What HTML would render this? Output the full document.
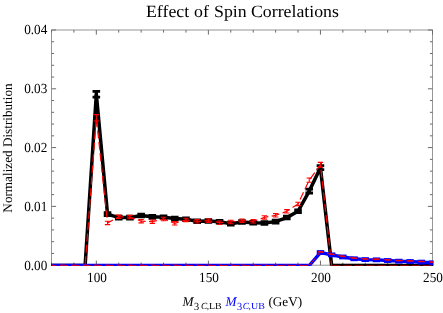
<!DOCTYPE html>
<html><head><meta charset="utf-8"><title>Effect of Spin Correlations</title>
<style>
html,body{margin:0;padding:0;background:#fff;}
body{width:443px;height:313px;position:relative;overflow:hidden;font-family:"Liberation Serif",serif;color:#000;text-rendering:geometricPrecision;}
.t{position:absolute;white-space:nowrap;line-height:1;}
#L{position:absolute;left:0;top:0;width:443px;height:313px;will-change:transform;}
.b{color:#0000ff;}
</style></head><body>
<svg width="443" height="313" viewBox="0 0 443 313" style="position:absolute;left:0;top:0">
<rect x="51.50" y="30.00" width="381.00" height="235.20" fill="none" stroke="#969696" stroke-width="1"/>
<g stroke="#6a6a6a" stroke-width="1" fill="none">
<path d="M51.50 265.20v-2.6M51.50 30.00v2.6"/>
<path d="M73.91 265.20v-2.6M73.91 30.00v2.6"/>
<path d="M96.32 265.20v-4.6M96.32 30.00v4.6"/>
<path d="M118.74 265.20v-2.6M118.74 30.00v2.6"/>
<path d="M141.15 265.20v-2.6M141.15 30.00v2.6"/>
<path d="M163.56 265.20v-2.6M163.56 30.00v2.6"/>
<path d="M185.97 265.20v-2.6M185.97 30.00v2.6"/>
<path d="M208.38 265.20v-4.6M208.38 30.00v4.6"/>
<path d="M230.79 265.20v-2.6M230.79 30.00v2.6"/>
<path d="M253.21 265.20v-2.6M253.21 30.00v2.6"/>
<path d="M275.62 265.20v-2.6M275.62 30.00v2.6"/>
<path d="M298.03 265.20v-2.6M298.03 30.00v2.6"/>
<path d="M320.44 265.20v-4.6M320.44 30.00v4.6"/>
<path d="M342.85 265.20v-2.6M342.85 30.00v2.6"/>
<path d="M365.26 265.20v-2.6M365.26 30.00v2.6"/>
<path d="M387.68 265.20v-2.6M387.68 30.00v2.6"/>
<path d="M410.09 265.20v-2.6M410.09 30.00v2.6"/>
<path d="M432.50 265.20v-4.6M432.50 30.00v4.6"/>
<path d="M51.50 265.20h4.6M432.5 265.20h-4.6"/>
<path d="M51.50 253.44h2.6M432.5 253.44h-2.6"/>
<path d="M51.50 241.68h2.6M432.5 241.68h-2.6"/>
<path d="M51.50 229.92h2.6M432.5 229.92h-2.6"/>
<path d="M51.50 218.16h2.6M432.5 218.16h-2.6"/>
<path d="M51.50 206.40h4.6M432.5 206.40h-4.6"/>
<path d="M51.50 194.64h2.6M432.5 194.64h-2.6"/>
<path d="M51.50 182.88h2.6M432.5 182.88h-2.6"/>
<path d="M51.50 171.12h2.6M432.5 171.12h-2.6"/>
<path d="M51.50 159.36h2.6M432.5 159.36h-2.6"/>
<path d="M51.50 147.60h4.6M432.5 147.60h-4.6"/>
<path d="M51.50 135.84h2.6M432.5 135.84h-2.6"/>
<path d="M51.50 124.08h2.6M432.5 124.08h-2.6"/>
<path d="M51.50 112.32h2.6M432.5 112.32h-2.6"/>
<path d="M51.50 100.56h2.6M432.5 100.56h-2.6"/>
<path d="M51.50 88.80h4.6M432.5 88.80h-4.6"/>
<path d="M51.50 77.04h2.6M432.5 77.04h-2.6"/>
<path d="M51.50 65.28h2.6M432.5 65.28h-2.6"/>
<path d="M51.50 53.52h2.6M432.5 53.52h-2.6"/>
<path d="M51.50 41.76h2.6M432.5 41.76h-2.6"/>
<path d="M51.50 30.00h4.6M432.5 30.00h-4.6"/>
</g>
<clipPath id="c"><rect x="51" y="20" width="382.5" height="246"/></clipPath>
<g clip-path="url(#c)">
<polyline points="85.12,265.50 96.32,94.27 107.53,214.08 118.74,217.59 129.94,217.59 141.15,215.48 152.35,216.83 163.56,217.24 174.76,218.59 185.97,219.29 197.18,221.28 208.38,220.93 219.59,221.69 230.79,223.62 242.00,221.98 253.21,222.68 264.41,222.97 275.62,221.63 286.82,217.53 298.03,211.27 309.24,191.09 320.44,167.69 331.65,265.50" fill="none" stroke="#000" stroke-width="3.5" stroke-linejoin="miter" stroke-miterlimit="10"/>
<rect x="331.15" y="263.7" width="102.35" height="2.3" fill="#000"/>
<rect x="51" y="263.7" width="34.62" height="2.3" fill="#000"/>
<path d="M92.52 91.32h7.6M92.52 97.22h7.6" stroke="#000" stroke-width="2.8"/>
<path d="M96.32 91.32V97.22" stroke="#000" stroke-width="3.4"/>
<path d="M103.73 212.68h7.6M103.73 215.48h7.6" stroke="#000" stroke-width="2.8"/>
<path d="M107.53 212.68V215.48" stroke="#000" stroke-width="3.4"/>
<path d="M114.94 216.19h7.6M114.94 218.99h7.6" stroke="#000" stroke-width="2.8"/>
<path d="M118.74 216.19V218.99" stroke="#000" stroke-width="3.4"/>
<path d="M126.14 216.19h7.6M126.14 218.99h7.6" stroke="#000" stroke-width="2.8"/>
<path d="M129.94 216.19V218.99" stroke="#000" stroke-width="3.4"/>
<path d="M137.35 214.08h7.6M137.35 216.88h7.6" stroke="#000" stroke-width="2.8"/>
<path d="M141.15 214.08V216.88" stroke="#000" stroke-width="3.4"/>
<path d="M148.55 215.43h7.6M148.55 218.23h7.6" stroke="#000" stroke-width="2.8"/>
<path d="M152.35 215.43V218.23" stroke="#000" stroke-width="3.4"/>
<path d="M159.76 215.84h7.6M159.76 218.64h7.6" stroke="#000" stroke-width="2.8"/>
<path d="M163.56 215.84V218.64" stroke="#000" stroke-width="3.4"/>
<path d="M170.96 217.19h7.6M170.96 219.99h7.6" stroke="#000" stroke-width="2.8"/>
<path d="M174.76 217.19V219.99" stroke="#000" stroke-width="3.4"/>
<path d="M182.17 217.89h7.6M182.17 220.69h7.6" stroke="#000" stroke-width="2.8"/>
<path d="M185.97 217.89V220.69" stroke="#000" stroke-width="3.4"/>
<path d="M193.38 219.88h7.6M193.38 222.68h7.6" stroke="#000" stroke-width="2.8"/>
<path d="M197.18 219.88V222.68" stroke="#000" stroke-width="3.4"/>
<path d="M204.58 219.53h7.6M204.58 222.33h7.6" stroke="#000" stroke-width="2.8"/>
<path d="M208.38 219.53V222.33" stroke="#000" stroke-width="3.4"/>
<path d="M215.79 220.29h7.6M215.79 223.09h7.6" stroke="#000" stroke-width="2.8"/>
<path d="M219.59 220.29V223.09" stroke="#000" stroke-width="3.4"/>
<path d="M226.99 222.22h7.6M226.99 225.02h7.6" stroke="#000" stroke-width="2.8"/>
<path d="M230.79 222.22V225.02" stroke="#000" stroke-width="3.4"/>
<path d="M238.20 220.58h7.6M238.20 223.38h7.6" stroke="#000" stroke-width="2.8"/>
<path d="M242.00 220.58V223.38" stroke="#000" stroke-width="3.4"/>
<path d="M249.41 221.28h7.6M249.41 224.08h7.6" stroke="#000" stroke-width="2.8"/>
<path d="M253.21 221.28V224.08" stroke="#000" stroke-width="3.4"/>
<path d="M260.61 221.57h7.6M260.61 224.37h7.6" stroke="#000" stroke-width="2.8"/>
<path d="M264.41 221.57V224.37" stroke="#000" stroke-width="3.4"/>
<path d="M271.82 220.23h7.6M271.82 223.03h7.6" stroke="#000" stroke-width="2.8"/>
<path d="M275.62 220.23V223.03" stroke="#000" stroke-width="3.4"/>
<path d="M283.02 216.13h7.6M283.02 218.93h7.6" stroke="#000" stroke-width="2.8"/>
<path d="M286.82 216.13V218.93" stroke="#000" stroke-width="3.4"/>
<path d="M294.23 209.87h7.6M294.23 212.67h7.6" stroke="#000" stroke-width="2.8"/>
<path d="M298.03 209.87V212.67" stroke="#000" stroke-width="3.4"/>
<path d="M305.44 189.19h7.6M305.44 192.99h7.6" stroke="#000" stroke-width="2.8"/>
<path d="M309.24 189.19V192.99" stroke="#000" stroke-width="3.4"/>
<path d="M316.64 165.69h7.6M316.64 169.69h7.6" stroke="#000" stroke-width="2.8"/>
<path d="M320.44 165.69V169.69" stroke="#000" stroke-width="3.4"/>
<polyline points="85.12,265.50 96.32,117.79 107.53,222.97 118.74,216.83 129.94,217.12 141.15,221.22 152.35,221.63 163.56,218.99 174.76,223.27 185.97,219.93 197.18,221.28 208.38,220.63 219.59,222.68 230.79,221.98 242.00,220.63 253.21,221.28 264.41,217.42 275.62,215.37 286.82,211.33 298.03,203.96 309.24,180.09 320.44,164.77 331.65,265.50" fill="none" stroke="#ff0000" stroke-width="1.2" stroke-dasharray="8 3.4" stroke-dashoffset="10.08"/>
<path d="M331.65 265.45H433" fill="none" stroke="#ff0000" stroke-width="0.6" stroke-dasharray="9 2.4"/>
<path d="M96.32 114.59V120.99M93.62 114.59h5.4M93.62 120.99h5.4" stroke="#ff0000" stroke-width="1.1" fill="none"/>
<path d="M107.53 221.27V224.67M104.83 221.27h5.4M104.83 224.67h5.4" stroke="#ff0000" stroke-width="1.1" fill="none"/>
<path d="M118.74 215.13V218.53M116.04 215.13h5.4M116.04 218.53h5.4" stroke="#ff0000" stroke-width="1.1" fill="none"/>
<path d="M129.94 215.42V218.82M127.24 215.42h5.4M127.24 218.82h5.4" stroke="#ff0000" stroke-width="1.1" fill="none"/>
<path d="M141.15 219.52V222.92M138.45 219.52h5.4M138.45 222.92h5.4" stroke="#ff0000" stroke-width="1.1" fill="none"/>
<path d="M152.35 219.93V223.33M149.65 219.93h5.4M149.65 223.33h5.4" stroke="#ff0000" stroke-width="1.1" fill="none"/>
<path d="M163.56 217.29V220.69M160.86 217.29h5.4M160.86 220.69h5.4" stroke="#ff0000" stroke-width="1.1" fill="none"/>
<path d="M174.76 221.57V224.97M172.06 221.57h5.4M172.06 224.97h5.4" stroke="#ff0000" stroke-width="1.1" fill="none"/>
<path d="M185.97 218.23V221.63M183.27 218.23h5.4M183.27 221.63h5.4" stroke="#ff0000" stroke-width="1.1" fill="none"/>
<path d="M197.18 219.58V222.98M194.48 219.58h5.4M194.48 222.98h5.4" stroke="#ff0000" stroke-width="1.1" fill="none"/>
<path d="M208.38 218.93V222.33M205.68 218.93h5.4M205.68 222.33h5.4" stroke="#ff0000" stroke-width="1.1" fill="none"/>
<path d="M219.59 220.98V224.38M216.89 220.98h5.4M216.89 224.38h5.4" stroke="#ff0000" stroke-width="1.1" fill="none"/>
<path d="M230.79 220.28V223.68M228.09 220.28h5.4M228.09 223.68h5.4" stroke="#ff0000" stroke-width="1.1" fill="none"/>
<path d="M242.00 218.93V222.33M239.30 218.93h5.4M239.30 222.33h5.4" stroke="#ff0000" stroke-width="1.1" fill="none"/>
<path d="M253.21 219.58V222.98M250.51 219.58h5.4M250.51 222.98h5.4" stroke="#ff0000" stroke-width="1.1" fill="none"/>
<path d="M264.41 215.72V219.12M261.71 215.72h5.4M261.71 219.12h5.4" stroke="#ff0000" stroke-width="1.1" fill="none"/>
<path d="M275.62 213.67V217.07M272.92 213.67h5.4M272.92 217.07h5.4" stroke="#ff0000" stroke-width="1.1" fill="none"/>
<path d="M286.82 209.63V213.03M284.12 209.63h5.4M284.12 213.03h5.4" stroke="#ff0000" stroke-width="1.1" fill="none"/>
<path d="M298.03 202.26V205.66M295.33 202.26h5.4M295.33 205.66h5.4" stroke="#ff0000" stroke-width="1.1" fill="none"/>
<path d="M309.24 177.99V182.19M306.54 177.99h5.4M306.54 182.19h5.4" stroke="#ff0000" stroke-width="1.1" fill="none"/>
<path d="M320.44 162.37V167.17M317.74 162.37h5.4M317.74 167.17h5.4" stroke="#ff0000" stroke-width="1.1" fill="none"/>
<polyline points="51.50,265.50 62.71,265.50 73.91,265.50 85.12,265.50 96.32,265.50 107.53,265.50 118.74,265.50 129.94,265.50 141.15,265.50 152.35,265.50 163.56,265.50 174.76,265.50 185.97,265.50 197.18,265.50 208.38,265.50 219.59,265.50 230.79,265.50 242.00,265.50 253.21,265.50 264.41,265.50 275.62,265.50 286.82,265.50 298.03,265.50 309.24,265.50 320.44,252.52 331.65,254.86 342.85,256.96 354.06,258.77 365.26,259.59 376.47,259.83 387.68,260.53 398.88,261.17 410.09,261.52 421.29,262.11 432.50,262.81" fill="none" stroke="#0000ff" stroke-width="3.4" stroke-linejoin="round"/>
<rect x="316.74" y="250.12" width="7.4" height="4.8" fill="#0000ff"/>
<rect x="327.95" y="252.46" width="7.4" height="4.8" fill="#0000ff"/>
<rect x="339.15" y="254.56" width="7.4" height="4.8" fill="#0000ff"/>
<rect x="350.36" y="256.37" width="7.4" height="4.8" fill="#0000ff"/>
<rect x="361.56" y="257.19" width="7.4" height="4.8" fill="#0000ff"/>
<rect x="372.77" y="257.43" width="7.4" height="4.8" fill="#0000ff"/>
<rect x="383.98" y="258.13" width="7.4" height="4.8" fill="#0000ff"/>
<rect x="395.18" y="258.77" width="7.4" height="4.8" fill="#0000ff"/>
<rect x="406.39" y="259.12" width="7.4" height="4.8" fill="#0000ff"/>
<rect x="417.59" y="259.71" width="7.4" height="4.8" fill="#0000ff"/>
<rect x="428.80" y="260.41" width="7.4" height="4.8" fill="#0000ff"/>
<polyline points="51.50,265.50 62.71,265.50 73.91,265.50 85.12,265.50 96.32,265.50 107.53,265.50 118.74,265.50 129.94,265.50 141.15,265.50 152.35,265.50 163.56,265.50 174.76,265.50 185.97,265.50 197.18,265.50 208.38,265.50 219.59,265.50 230.79,265.50 242.00,265.50 253.21,265.50 264.41,265.50 275.62,265.50 286.82,265.50 298.03,265.50 309.24,265.50 320.44,251.87 331.65,254.21 342.85,256.31 354.06,258.13 365.26,258.95 376.47,259.18 387.68,259.88 398.88,260.53 410.09,260.88 421.29,261.46 432.50,262.16" fill="none" stroke="#ff0000" stroke-width="1.0" stroke-dasharray="8 3.4" stroke-dashoffset="2.92" opacity="0.8"/>
<path d="M49.00 264.5h5" stroke="#ff0000" stroke-width="1" opacity="0.35"/>
<path d="M60.21 264.5h5" stroke="#ff0000" stroke-width="1" opacity="0.35"/>
<path d="M71.41 264.5h5" stroke="#ff0000" stroke-width="1" opacity="0.35"/>
<path d="M82.62 264.5h5" stroke="#ff0000" stroke-width="1" opacity="0.35"/>
<path d="M93.82 264.5h5" stroke="#ff0000" stroke-width="1" opacity="0.35"/>
<path d="M105.03 264.5h5" stroke="#ff0000" stroke-width="1" opacity="0.35"/>
<path d="M116.24 264.5h5" stroke="#ff0000" stroke-width="1" opacity="0.35"/>
<path d="M127.44 264.5h5" stroke="#ff0000" stroke-width="1" opacity="0.35"/>
<path d="M138.65 264.5h5" stroke="#ff0000" stroke-width="1" opacity="0.35"/>
<path d="M149.85 264.5h5" stroke="#ff0000" stroke-width="1" opacity="0.35"/>
<path d="M161.06 264.5h5" stroke="#ff0000" stroke-width="1" opacity="0.35"/>
<path d="M172.26 264.5h5" stroke="#ff0000" stroke-width="1" opacity="0.35"/>
<path d="M183.47 264.5h5" stroke="#ff0000" stroke-width="1" opacity="0.35"/>
<path d="M194.68 264.5h5" stroke="#ff0000" stroke-width="1" opacity="0.35"/>
<path d="M205.88 264.5h5" stroke="#ff0000" stroke-width="1" opacity="0.35"/>
<path d="M217.09 264.5h5" stroke="#ff0000" stroke-width="1" opacity="0.35"/>
<path d="M228.29 264.5h5" stroke="#ff0000" stroke-width="1" opacity="0.35"/>
<path d="M239.50 264.5h5" stroke="#ff0000" stroke-width="1" opacity="0.35"/>
<path d="M250.71 264.5h5" stroke="#ff0000" stroke-width="1" opacity="0.35"/>
<path d="M261.91 264.5h5" stroke="#ff0000" stroke-width="1" opacity="0.35"/>
<path d="M273.12 264.5h5" stroke="#ff0000" stroke-width="1" opacity="0.35"/>
<path d="M284.32 264.5h5" stroke="#ff0000" stroke-width="1" opacity="0.35"/>
<path d="M295.53 264.5h5" stroke="#ff0000" stroke-width="1" opacity="0.35"/>
<path d="M306.74 264.5h5" stroke="#ff0000" stroke-width="1" opacity="0.35"/>
<path d="M317.84 251.87h5.2" stroke="#ff0000" stroke-width="1.6" opacity="0.9"/>
<path d="M329.05 254.21h5.2" stroke="#ff0000" stroke-width="1.6" opacity="0.9"/>
<path d="M340.25 256.31h5.2" stroke="#ff0000" stroke-width="1.6" opacity="0.9"/>
<path d="M351.46 258.13h5.2" stroke="#ff0000" stroke-width="1.6" opacity="0.9"/>
<path d="M362.66 258.95h5.2" stroke="#ff0000" stroke-width="1.6" opacity="0.9"/>
<path d="M373.87 259.18h5.2" stroke="#ff0000" stroke-width="1.6" opacity="0.9"/>
<path d="M385.08 259.88h5.2" stroke="#ff0000" stroke-width="1.6" opacity="0.9"/>
<path d="M396.28 260.53h5.2" stroke="#ff0000" stroke-width="1.6" opacity="0.9"/>
<path d="M407.49 260.88h5.2" stroke="#ff0000" stroke-width="1.6" opacity="0.9"/>
<path d="M418.69 261.46h5.2" stroke="#ff0000" stroke-width="1.6" opacity="0.9"/>
<path d="M429.90 262.16h5.2" stroke="#ff0000" stroke-width="1.6" opacity="0.9"/>
</g>
</svg>
<div id="L">
<div class="t " style="left:146.10px;top:2.60px;font-size:17.20px;transform:scale(1.0350,1.0000);transform-origin:0 0;">Effect</div>
<div class="t " style="left:194.30px;top:2.60px;font-size:17.20px;transform:scale(1.0350,1.0000);transform-origin:0 0;">of</div>
<div class="t " style="left:214.10px;top:2.60px;font-size:17.20px;transform:scale(1.0350,1.0000);transform-origin:0 0;">Spin</div>
<div class="t " style="left:251.40px;top:2.60px;font-size:17.20px;transform:scale(1.0350,1.0000);transform-origin:0 0;">Correlations</div>
<div class="t" style="right:396.00px;top:260.00px;font-size:13.90px;transform:scale(0.9500,1.0000);transform-origin:100% 50%">0.00</div>
<div class="t" style="right:396.00px;top:201.00px;font-size:13.90px;transform:scale(0.9500,1.0000);transform-origin:100% 50%">0.01</div>
<div class="t" style="right:396.00px;top:142.00px;font-size:13.90px;transform:scale(0.9500,1.0000);transform-origin:100% 50%">0.02</div>
<div class="t" style="right:396.00px;top:83.00px;font-size:13.90px;transform:scale(0.9500,1.0000);transform-origin:100% 50%">0.03</div>
<div class="t" style="right:396.00px;top:24.00px;font-size:13.90px;transform:scale(0.9500,1.0000);transform-origin:100% 50%">0.04</div>
<div class="t" style="left:96.92px;top:272.40px;font-size:13.90px;transform:translateX(-50%) scale(0.9500,1.0000);transform-origin:50% 0">100</div>
<div class="t" style="left:208.98px;top:272.40px;font-size:13.90px;transform:translateX(-50%) scale(0.9500,1.0000);transform-origin:50% 0">150</div>
<div class="t" style="left:321.04px;top:272.40px;font-size:13.90px;transform:translateX(-50%) scale(0.9500,1.0000);transform-origin:50% 0">200</div>
<div class="t" style="left:433.10px;top:272.40px;font-size:13.90px;transform:translateX(-50%) scale(0.9500,1.0000);transform-origin:50% 0">250</div>
<div class="t" id="ylab" style="left:7.6px;top:147.8px;font-size:13.2px;transform:translate(-50%,-50%) rotate(-90deg);">Normalized Distribution</div>
<div class="t " style="left:182.60px;top:295.00px;font-size:13.20px;transform:scale(1.0000,1.0000);transform-origin:0 0;"><i>M</i></div>
<div class="t " style="left:193.70px;top:302.20px;font-size:10.90px;transform:scale(0.9500,1.0000);transform-origin:0 0;">3</div>
<div class="t " style="left:201.00px;top:303.00px;font-size:9.30px;transform:scale(1.0000,1.0000);transform-origin:0 0;"><i>C</i></div>
<div class="t " style="left:206.70px;top:303.00px;font-size:9.30px;transform:scale(1.0000,1.0000);transform-origin:0 0;">,</div>
<div class="t " style="left:208.70px;top:303.00px;font-size:9.30px;transform:scale(1.0700,1.0000);transform-origin:0 0;">LB</div>
<div class="t b" style="left:225.60px;top:295.00px;font-size:13.20px;transform:scale(1.0000,1.0000);transform-origin:0 0;"><i>M</i></div>
<div class="t b" style="left:236.70px;top:302.20px;font-size:10.90px;transform:scale(0.9500,1.0000);transform-origin:0 0;">3</div>
<div class="t b" style="left:242.80px;top:303.00px;font-size:9.30px;transform:scale(1.0000,1.0000);transform-origin:0 0;"><i>C</i></div>
<div class="t b" style="left:248.50px;top:303.00px;font-size:9.30px;transform:scale(1.0000,1.0000);transform-origin:0 0;">,</div>
<div class="t b" style="left:250.60px;top:303.00px;font-size:9.30px;transform:scale(1.0700,1.0000);transform-origin:0 0;">UB</div>
<div class="t " style="left:268.40px;top:295.00px;font-size:13.20px;transform:scale(1.0000,1.0000);transform-origin:0 0;">(GeV)</div>
</div>
</body></html>
